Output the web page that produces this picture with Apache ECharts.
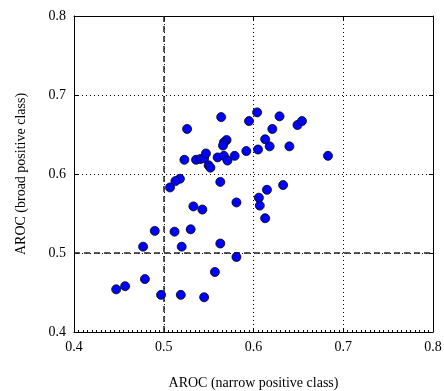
<!DOCTYPE html>
<html>
<head>
<meta charset="utf-8">
<script src="https://cdn.jsdelivr.net/npm/echarts@6/dist/echarts.min.js"></script>
<style>
  html, body { margin: 0; padding: 0; background: #fff; }
  #chart { width: 444px; height: 391px; }
</style>
</head>
<body>
<div id="chart"></div>
<script>
// AROC on narrow vs broad positive class, one point per run
const narrowAroc = [
  0.526, 0.564, 0.595, 0.604, 0.570, 0.567, 0.566, 0.523, 0.536, 0.541,
  0.545, 0.547, 0.550, 0.552, 0.560, 0.567, 0.571, 0.579, 0.592, 0.605,
  0.563, 0.518, 0.513, 0.507, 0.629, 0.621, 0.649, 0.654, 0.613, 0.618,
  0.640, 0.683, 0.633, 0.615, 0.533, 0.543, 0.581, 0.606, 0.607, 0.490,
  0.512, 0.530, 0.563, 0.520, 0.581, 0.557, 0.613, 0.477, 0.479, 0.457,
  0.447, 0.497, 0.519, 0.545
]
const broadAroc = [
  0.657, 0.672, 0.667, 0.678, 0.643, 0.640, 0.636, 0.618, 0.618, 0.619,
  0.620, 0.626, 0.611, 0.608, 0.621, 0.623, 0.617, 0.623, 0.629, 0.631,
  0.590, 0.594, 0.591, 0.583, 0.673, 0.657, 0.662, 0.667, 0.644, 0.635,
  0.635, 0.623, 0.586, 0.580, 0.559, 0.555, 0.564, 0.570, 0.560, 0.528,
  0.527, 0.530, 0.512, 0.508, 0.495, 0.476, 0.544, 0.508, 0.467, 0.458,
  0.454, 0.447, 0.447, 0.444
]
const xTicks = [0.4, 0.5, 0.6, 0.7, 0.8]
const yTicks = [0.4, 0.5, 0.6, 0.7, 0.8]
const refX = 0.5
const refY = 0.5

const chart = echarts.init(document.getElementById('chart'))

const font = 'Liberation Serif, Times New Roman, serif'
const dotted = { color: '#000', width: 1, type: [1, 3] }

const baseAxis = {
  type: 'value',
  interval: 0.1,
  axisLine: { show: true, lineStyle: { color: '#000', width: 1 } },
  axisTick: { show: true, inside: true, length: 4, lineStyle: { color: '#000' } },
  splitLine: { show: false }
}

const option = {
  animation: false,
  backgroundColor: '#fff',
  grid: { left: 74, right: 11, top: 16, bottom: 59, outerBoundsMode: 'none', containLabel: false },
  xAxis: [
    {
      ...baseAxis,
      min: xTicks[0],
      max: xTicks[xTicks.length - 1],
      name: 'AROC (narrow positive class)',
      nameLocation: 'middle',
      nameGap: 44,
      nameTextStyle: { fontFamily: font, fontSize: 14, color: '#000' },
      axisLabel: {
        fontFamily: font, fontSize: 14, color: '#000', margin: 8,
        formatter: v => v.toFixed(1)
      },
      minorTick: { show: true, splitNumber: 20, length: 2, lineStyle: { color: '#000' } },
      splitLine: { show: true, lineStyle: dotted }
    },
    {
      ...baseAxis,
      position: 'top',
      min: xTicks[0],
      max: xTicks[xTicks.length - 1],
      axisLabel: { show: false }
    }
  ],
  yAxis: [
    {
      ...baseAxis,
      min: yTicks[0],
      max: yTicks[yTicks.length - 1],
      name: 'AROC (broad positive class)',
      nameLocation: 'middle',
      nameGap: 46,
      nameRotate: 90,
      nameTextStyle: { fontFamily: font, fontSize: 14, color: '#000' },
      axisLabel: {
        fontFamily: font, fontSize: 14, color: '#000', margin: 8,
        formatter: v => v.toFixed(1)
      },
      splitLine: { show: true, lineStyle: dotted }
    },
    {
      ...baseAxis,
      position: 'right',
      min: yTicks[0],
      max: yTicks[yTicks.length - 1],
      axisLabel: { show: false }
    }
  ],
  series: [
    {
      type: 'scatter',
      data: narrowAroc.map((x, i) => [x, broadAroc[i]]),
      symbolSize: 9,
      itemStyle: { color: '#0000ff', borderColor: '#000', borderWidth: 0.8, opacity: 1 },
      markLine: {
        silent: true,
        symbol: 'none',
        label: { show: false },
        lineStyle: { color: '#222', width: 1.5, type: [6, 4] },
        data: [{ xAxis: refX }, { yAxis: refY }]
      },
      z: 5
    }
  ]
}

chart.setOption(option)
</script>
</body>
</html>
